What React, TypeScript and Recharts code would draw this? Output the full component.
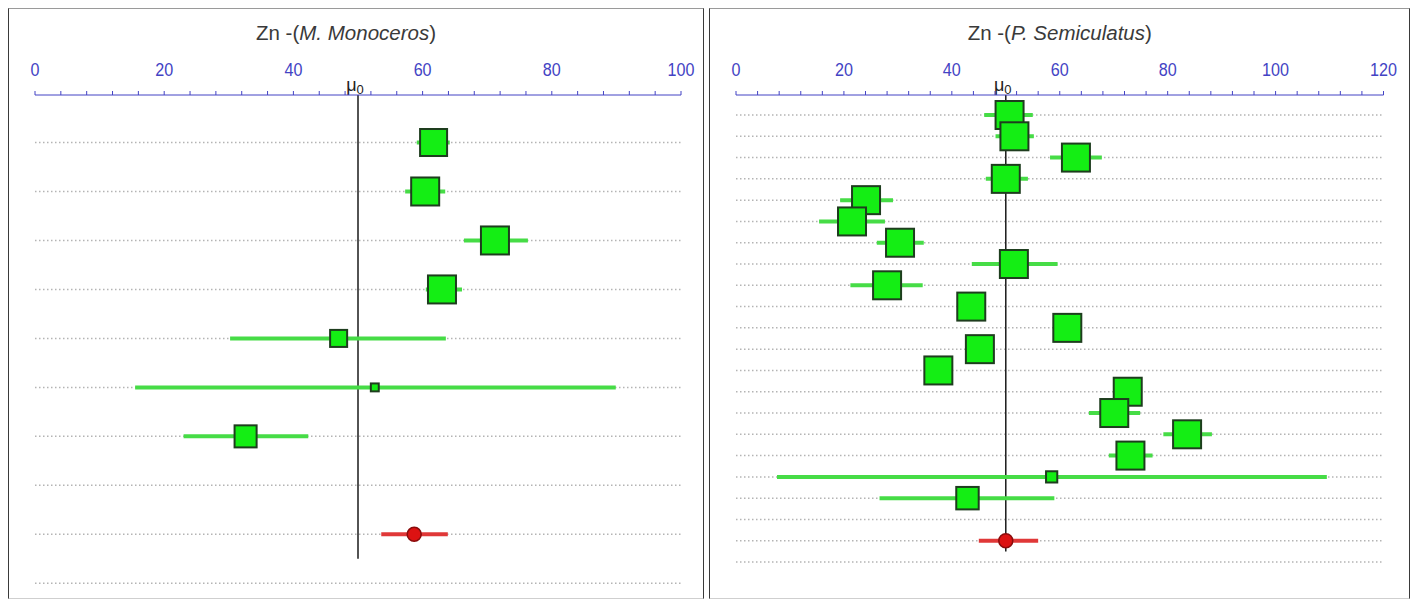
import React from "react";
import {
  ScatterChart,
  Scatter,
  XAxis,
  YAxis,
  ErrorBar,
  ReferenceLine,
  CartesianGrid,
} from "recharts";

// Zn - M. Monoceros (estimativa, IC inferior, IC superior, peso %)
const monoEst = [61.7, 60.4, 71.2, 63.0, 47.0, 52.6, 32.6];
const monoLow = [59.1, 57.3, 66.4, 60.5, 30.2, 15.5, 23.0];
const monoHigh = [64.2, 63.5, 76.3, 66.1, 63.6, 89.9, 42.3];
const monoWeight = [18.6, 20.0, 20.0, 20.0, 7.4, 1.6, 12.4];
const monoPooled = [58.7, 53.6, 63.9]; // est, low, high
const monoTickLabels = [0, 20, 40, 60, 80, 100];

// Zn - P. Semiculatus
const semiEst = [
  50.7, 51.6, 63.0, 50.0, 24.1, 21.5, 30.4, 51.5, 28.0, 43.6, 61.4, 45.2, 37.5,
  72.6, 70.1, 83.6, 73.1, 58.5, 42.9,
];
const semiLow = [
  46.0, 48.1, 58.2, 46.3, 19.3, 15.4, 26.1, 43.7, 21.2, 41.5, 59.5, 43.2, 35.5,
  70.5, 65.4, 79.2, 69.1, 7.6, 26.6,
];
const semiHigh = [
  55.0, 55.2, 67.8, 54.1, 29.1, 27.6, 34.8, 59.6, 34.6, 45.7, 63.3, 47.2, 39.5,
  74.7, 74.9, 88.2, 77.2, 109.5, 59.0,
];
const semiWeight = [
  5.6, 5.6, 5.6, 5.6, 5.6, 5.6, 5.6, 5.6, 5.6, 5.6, 5.6, 5.6, 5.6, 5.6, 5.6,
  5.6, 5.6, 0.9, 3.6,
];
const semiPooled = [50.0, 45.0, 56.0];
const semiTickLabels = [0, 20, 40, 60, 80, 100, 120];

const MU0 = 50;
const MINOR_STEP = 4;
const BOX_MAX = 28;
const FONT = "Liberation Sans, Arial, sans-serif";

const GREEN_FILL = "#14ee14";
const GREEN_EDGE = "#1e3d1e";
const GREEN_LINE = "#46dc46";
const RED_LINE = "#e03838";
const AXIS_BLUE = "#4343c4";

function buildStudies(est: number[], low: number[], high: number[], w: number[]) {
  return est.map((e, i) => ({
    x: e,
    y: i + 1,
    err: [e - low[i], high[i] - e],
    w: w[i],
  }));
}

function makeTick(labels: number[]) {
  return (props: any) => {
    const { x, y, payload } = props;
    if (!labels.includes(payload.value)) return <g />;
    return (
      <text
        transform={`translate(${x},${y}) scale(0.85,1)`}
        textAnchor="middle"
        fill={AXIS_BLUE}
        fontSize={19}
        fontFamily={FONT}
      >
        {payload.value}
      </text>
    );
  };
}

function MuLabel(props: any) {
  const vb = props.viewBox || {};
  return (
    <text
      x={vb.x - 3}
      y={vb.y - 4}
      textAnchor="middle"
      fill="#222"
      fontSize={18}
      fontFamily={FONT}
    >
      μ
      <tspan fontSize={13} dy={3}>
        0
      </tspan>
    </text>
  );
}

interface PanelProps {
  genus: string;
  est: number[];
  low: number[];
  high: number[];
  weight: number[];
  pooled: number[];
  tickLabels: number[];
  yDomain: [number, number];
  width: number;
  marginRight: number;
  titleShift: number;
}

function ForestPanel({
  genus,
  est,
  low,
  high,
  weight,
  pooled,
  tickLabels,
  yDomain,
  width,
  marginRight,
  titleShift,
}: PanelProps) {
  const studies = buildStudies(est, low, high, weight);
  const maxW = Math.max(...weight);
  const pooledRow = est.length + 2;
  const nRows = est.length + 3;
  const rows = Array.from({ length: nRows }, (_, i) => i + 1);
  const xMax = tickLabels[tickLabels.length - 1];
  const ticks = Array.from({ length: xMax / MINOR_STEP + 1 }, (_, i) => i * MINOR_STEP);
  const pooledData = [
    { x: pooled[0], y: pooledRow, err: [pooled[0] - pooled[1], pooled[2] - pooled[0]] },
  ];
  const marginLeft = 26;
  const plotW = width - marginLeft - marginRight;

  const box = (p: any) => {
    const s = BOX_MAX * Math.sqrt(p.payload.w / maxW);
    return (
      <rect
        x={p.cx - s / 2}
        y={p.cy - s / 2}
        width={s}
        height={s}
        fill={GREEN_FILL}
        stroke={GREEN_EDGE}
        strokeWidth={2}
      />
    );
  };
  const dot = (p: any) => (
    <circle cx={p.cx} cy={p.cy} r={7} fill="#dc1212" stroke="#8a0c0c" strokeWidth={1.5} />
  );

  return (
    <div
      style={{
        position: "relative",
        width,
        height: 589,
        borderTop: "1px solid #9a9a9a",
        borderLeft: "1px solid #3a3a3a",
        borderRight: "1px solid #3a3a3a",
        borderBottom: "1px solid #cfcfcf",
        background: "#fff",
      }}
    >
      <div
        style={{
          position: "absolute",
          top: 13,
          left: marginLeft + titleShift,
          width: plotW,
          textAlign: "center",
          fontFamily: FONT,
          fontSize: 20.5,
          lineHeight: "22px",
          color: "#3a3a3a",
        }}
      >
        Zn -(<i>{genus}</i>)
      </div>
      <ScatterChart
        width={width}
        height={589}
        margin={{ top: 50, right: marginRight, bottom: 0, left: marginLeft }}
      >
        <CartesianGrid
          horizontal
          vertical={false}
          horizontalValues={rows}
          stroke="#b4b4b4"
          strokeDasharray="1.5 2.5"
          strokeWidth={1.5}
        />
        <XAxis
          dataKey="x"
          type="number"
          orientation="top"
          domain={[0, xMax]}
          ticks={ticks}
          interval={0}
          height={36}
          stroke={AXIS_BLUE}
          tickSize={4}
          tickMargin={15}
          tick={makeTick(tickLabels)}
          allowDataOverflow
        />
        <YAxis
          dataKey="y"
          type="number"
          domain={yDomain}
          ticks={rows}
          interval={0}
          reversed
          hide
          allowDataOverflow
        />
        <ReferenceLine
          segment={[
            { x: MU0, y: yDomain[0] },
            { x: MU0, y: pooledRow + 0.5 },
          ]}
          stroke="#1a1a1a"
          strokeWidth={1.5}
          label={<MuLabel />}
        />
        <Scatter data={studies} shape={box} isAnimationActive={false}>
          <ErrorBar
            dataKey="err"
            direction="x"
            width={0}
            stroke={GREEN_LINE}
            strokeWidth={4}
            isAnimationActive={false}
          />
        </Scatter>
        <Scatter data={pooledData} shape={dot} isAnimationActive={false}>
          <ErrorBar
            dataKey="err"
            direction="x"
            width={0}
            stroke={RED_LINE}
            strokeWidth={4}
            isAnimationActive={false}
          />
        </Scatter>
      </ScatterChart>
    </div>
  );
}

export default function App() {
  return (
    <div style={{ display: "flex", gap: 5, width: 1403 }}>
      <ForestPanel
        genus="M. Monoceros"
        est={monoEst}
        low={monoLow}
        high={monoHigh}
        weight={monoWeight}
        pooled={monoPooled}
        tickLabels={monoTickLabels}
        yDomain={[0.03, 10.3]}
        width={694}
        marginRight={22}
        titleShift={-12}
      />
      <ForestPanel
        genus="P. Semiculatus"
        est={semiEst}
        low={semiLow}
        high={semiHigh}
        weight={semiWeight}
        pooled={semiPooled}
        tickLabels={semiTickLabels}
        yDomain={[0.06, 23.69]}
        width={699}
        marginRight={25.5}
        titleShift={0}
      />
    </div>
  );
}
